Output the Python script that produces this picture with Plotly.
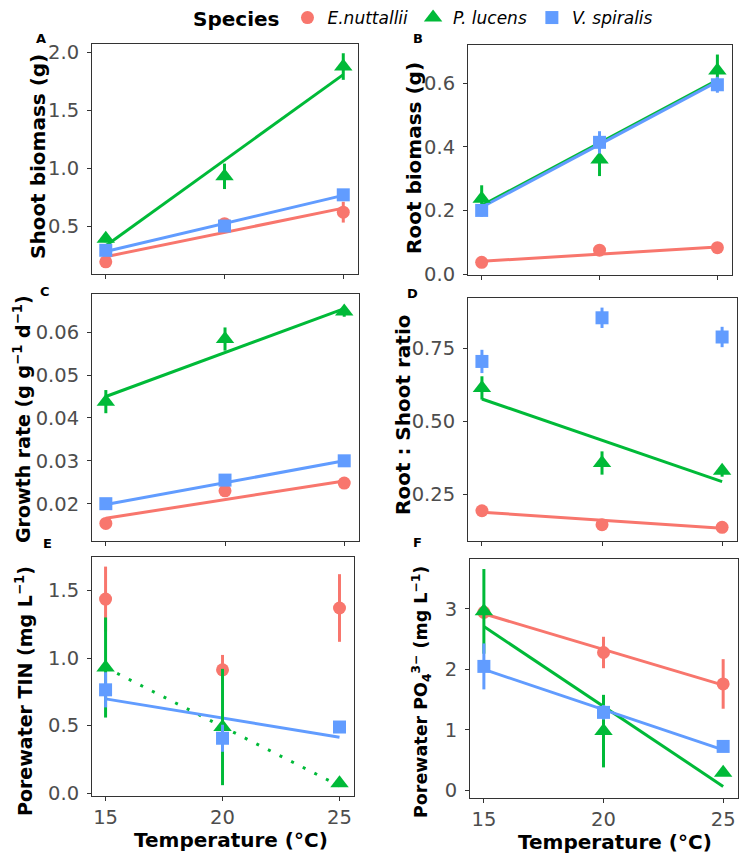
import plotly.graph_objects as go

# --- data ------------------------------------------------------------------
temps = [15, 20, 25]
species = ["E.nuttallii", "P. lucens", "V. spiralis"]
colors = {"E.nuttallii": "#F8766D", "P. lucens": "#00BA38", "V. spiralis": "#619CFF"}
symbols = {"E.nuttallii": "circle", "P. lucens": "triangle-up", "V. spiralis": "square"}

# A - shoot biomass (g)
shoot_mean = {"E.nuttallii": [0.19, 0.52, 0.62], "P. lucens": [0.39, 0.93, 1.88], "V. spiralis": [0.29, 0.50, 0.77]}
shoot_err = {"E.nuttallii": [0.02, 0.03, 0.09], "P. lucens": [0.03, 0.11, 0.115], "V. spiralis": [0.02, 0.02, 0.03]}
shoot_fit = {"E.nuttallii": [0.235, 0.655], "P. lucens": [0.33, 1.81], "V. spiralis": [0.28, 0.765]}

# B - root biomass (g)
root_mean = {"E.nuttallii": [0.037, 0.075, 0.083], "P. lucens": [0.237, 0.36, 0.64], "V. spiralis": [0.20, 0.414, 0.595]}
root_err = {"E.nuttallii": [0.005, 0.005, 0.005], "P. lucens": [0.042, 0.052, 0.05], "V. spiralis": [0.02, 0.035, 0.025]}
root_fit = {"E.nuttallii": [0.04, 0.085], "P. lucens": [0.215, 0.61], "V. spiralis": [0.21, 0.605]}

# C - growth rate
growth_mean = {"E.nuttallii": [0.0154, 0.023, 0.0248], "P. lucens": [0.0438, 0.0584, 0.0648], "V. spiralis": [0.020, 0.0255, 0.030]}
growth_err = {"E.nuttallii": [0.0005, 0.001, 0.0008], "P. lucens": [0.0027, 0.0027, 0.0012], "V. spiralis": [0.0005, 0.0007, 0.0005]}
growth_fit = {"E.nuttallii": [0.0166, 0.0253], "P. lucens": [0.045, 0.0655], "V. spiralis": [0.0198, 0.0300]}

# D - root : shoot ratio
ratio_mean = {"E.nuttallii": [0.193, 0.145, 0.136], "P. lucens": [0.615, 0.357, 0.33], "V. spiralis": [0.706, 0.856, 0.79]}
ratio_err = {"E.nuttallii": [0.01, 0.008, 0.008], "P. lucens": [0.04, 0.04, 0.02], "V. spiralis": [0.04, 0.035, 0.035]}
ratio_fit = {"E.nuttallii": [0.188, 0.133], "P. lucens": [0.577, 0.293], "V. spiralis": None}

# E - porewater TIN
tin_mean = {"E.nuttallii": [1.436, 0.913, 1.37], "P. lucens": [0.93, 0.49, 0.074], "V. spiralis": [0.765, 0.407, 0.49]}
tin_err = {"E.nuttallii": [0.24, 0.11, 0.25], "P. lucens": [0.37, 0.43, 0.02], "V. spiralis": [0.13, 0.1, 0.03]}
tin_fit = {"E.nuttallii": None, "P. lucens": [0.93, 0.055], "V. spiralis": [0.698, 0.414]}

# F - porewater PO4
po4_mean = {"E.nuttallii": [2.945, 2.28, 1.76], "P. lucens": [2.96, 0.98, 0.29], "V. spiralis": [2.05, 1.29, 0.727]}
po4_err = {"E.nuttallii": [0.1, 0.26, 0.41], "P. lucens": [0.7, 0.6, 0.05], "V. spiralis": [0.38, 0.12, 0.05]}
po4_fit = {"E.nuttallii": [2.92, 1.74], "P. lucens": [2.71, 0.066], "V. spiralis": [2.0, 0.67]}

# page is shown with the default 8px body margin, so the figure is made
# 8px smaller and every pixel position is shifted back by 8
OFF = 8
W, H = 748 - OFF, 854 - OFF
FONT = "DejaVu Sans"


def fx(px):
    return (px - OFF) / W


def fy(py):
    return 1 - (py - OFF) / H


# panel boxes in page pixels: x0, x1, y0(top), y1(bottom)
panels = [
    ("A", (92, 358, 44, 274), shoot_mean, shoot_err, shoot_fit, [0.085, 2.075],
     [0.5, 1.0, 1.5, 2.0], ["0.5", "1.0", "1.5", "2.0"]),
    ("B", (468, 732, 45, 275), root_mean, root_err, root_fit, [-0.003, 0.72],
     [0, 0.2, 0.4, 0.6], ["0.0", "0.2", "0.4", "0.6"]),
    ("C", (92, 359, 294, 541), growth_mean, growth_err, growth_fit, [0.0113, 0.0689],
     [0.02, 0.03, 0.04, 0.05, 0.06], ["0.02", "0.03", "0.04", "0.05", "0.06"]),
    ("D", (468, 737, 298, 541), ratio_mean, ratio_err, ratio_fit, [0.089, 0.924],
     [0.25, 0.5, 0.75], ["0.25", "0.50", "0.75"]),
    ("E", (92, 354, 557, 796), tin_mean, tin_err, tin_fit, [-0.02, 1.747],
     [0, 0.5, 1.0, 1.5], ["0.0", "0.5", "1.0", "1.5"]),
    ("F", (470, 738, 559, 798), po4_mean, po4_err, po4_fit, [-0.126, 3.826],
     [0, 1, 2, 3], ["0", "1", "2", "3"]),
]

fig = go.Figure()
layout = {}

for i, (lab, (x0, x1, y0, y1), means, errs, fits, yr, tv, tt) in enumerate(panels):
    n = "" if i == 0 else str(i + 1)
    xa, ya = "x" + n, "y" + n
    layout["xaxis" + n] = dict(
        domain=[fx(x0), fx(x1)], anchor=ya, range=[14.42, 25.62],
        tickvals=temps, ticktext=[str(t) for t in temps],
        showticklabels=lab in ("E", "F"), ticklabelstandoff=0,
    )
    layout["yaxis" + n] = dict(
        domain=[fy(y1), fy(y0)], anchor=xa, range=yr,
        tickvals=tv, ticktext=tt, ticklabelstandoff=4,
    )
    # regression lines
    for sp in species:
        f = fits[sp]
        if f is None:
            continue
        dash = "3px,10px" if (lab == "E" and sp == "P. lucens") else "solid"
        fig.add_trace(go.Scatter(
            x=[temps[0], temps[-1]], y=f, mode="lines", xaxis=xa, yaxis=ya,
            line=dict(color=colors[sp], width=3, dash=dash),
            showlegend=False, hoverinfo="skip"))
    # means with error bars
    for sp in species:
        fig.add_trace(go.Scatter(
            x=temps, y=means[sp], mode="markers", xaxis=xa, yaxis=ya,
            name="<i>%s</i>" % sp, legendgroup=sp, showlegend=(i == 0),
            marker=dict(color=colors[sp], symbol=symbols[sp],
                        size=16 if sp == "P. lucens" else 13, line=dict(width=0)),
            error_y=dict(type="data", array=errs[sp], color=colors[sp],
                         thickness=3, width=0)))

axis_common = dict(showline=True, mirror=True, linecolor="#333333", linewidth=1.1,
                   ticks="outside", ticklen=4, tickcolor="#333333", tickwidth=1.1,
                   showgrid=False, zeroline=False,
                   tickfont=dict(family=FONT, size=19.5, color="#4D4D4D"))
for k, v in layout.items():
    v.update(axis_common)

# panel letters
letters = [("A", 41, 38), ("B", 418, 38), ("C", 45, 291), ("D", 413, 293), ("E", 47, 543), ("F", 417, 542)]
ann = [dict(text="<b>%s</b>" % t, x=fx(px), y=fy(py), xref="paper", yref="paper",
            xanchor="center", yanchor="middle", showarrow=False,
            font=dict(family=FONT, size=13, color="black"))
       for t, px, py in letters]

# axis titles
ytitles = [
    ("Shoot biomass (g)", 38, 157, 20),
    ("Root biomass (g)", 414, 158, 20),
    ("Growth rate (g g<sup>\u22121</sup> d<sup>\u22121</sup>)", 22, 419, 19),
    ("Root : Shoot ratio", 403, 415, 20),
    ("Porewater TIN (mg L<sup>\u22121</sup>)", 24, 691, 19),
    ("Porewater PO<sub>4</sub><sup>3\u2212</sup> (mg L<sup>\u22121</sup>)", 421, 692, 17.5),
]
for t, px, py, fs in ytitles:
    ann.append(dict(text="<b>%s</b>" % t, x=fx(px), y=fy(py), xref="paper", yref="paper",
                    showarrow=False, textangle=-90, xanchor="center", yanchor="middle",
                    font=dict(family=FONT, size=fs, color="black")))
for px, py in ((231, 840), (615, 842)):
    ann.append(dict(text="<b>Temperature (\u00b0C)</b>", x=fx(px), y=fy(py),
                    xref="paper", yref="paper", showarrow=False,
                    xanchor="center", yanchor="middle",
                    font=dict(family=FONT, size=20, color="black")))

fig.update_layout(
    **layout,
    width=W, height=H,
    margin=dict(l=0, r=0, t=0, b=0, autoexpand=False),
    paper_bgcolor="white", plot_bgcolor="white",
    annotations=ann,
    legend=dict(orientation="h", x=fx(191), xanchor="left", y=fy(18), yanchor="middle",
                title=dict(text="<b>Species</b>", font=dict(family=FONT, size=20, color="black")),
                font=dict(family=FONT, size=17, color="black"),
                bgcolor="rgba(0,0,0,0)", itemclick=False),
)

fig.write_html("out.html")
